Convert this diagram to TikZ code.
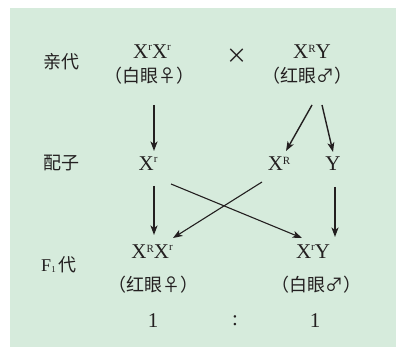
\documentclass[tikz,border=0pt]{standalone}
\usepackage{fontspec}
\setmainfont{Liberation Serif}
\newfontfamily\cjk{Noto Sans CJK SC}
\usetikzlibrary{arrows.meta}
\definecolor{bg}{RGB}{214,235,220}
\definecolor{ink}{RGB}{35,31,32}
\newcommand{\gsl}{\raisebox{8.2pt}{\fontsize{11}{11}\selectfont r}}
\newcommand{\gsu}{\raisebox{6pt}{\fontsize{11}{11}\selectfont R}}
\newcommand{\gsub}[1]{\raisebox{-0.05em}{\fontsize{9}{9}\selectfont #1}}
\begin{document}
\begin{tikzpicture}[x=1pt,y=-1pt,
  gene/.style={font=\fontsize{21}{21}\selectfont, inner sep=0pt, text=ink},
  zh/.style={font=\cjk\fontsize{18}{18}\selectfont, inner sep=0pt, text=ink},
  arr/.style={-{Stealth[length=9.5pt,width=7pt,inset=2.5pt]}, line width=1.4pt, draw=ink},
  crs/.style={arr, line width=1.1pt}]
\useasboundingbox (0,0) rectangle (396,347);
\fill[bg] (10,8) rectangle (396,347);
% row labels
\node[zh] (lp) at (61,62) {亲代};
\node[zh] (lg) at (61,163) {配子};
\node[inner sep=0pt, text=ink] (lf) at (59,265) {\fontsize{18}{18}\selectfont F\gsub{1}\hspace{3pt}\cjk\fontsize{18}{18}\selectfont 代};
% parents
\node[gene] (pf) at (152,52) {X\gsl X\gsl};
\node[zh] (pfl) at (149,76) {（白眼♀）};
\node[zh, font=\cjk\fontsize{21}{21}\selectfont] (cross) at (237,56) {×};
\node[gene] (pm) at (312,52) {X\gsu Y};
\node[zh] (pml) at (307,76) {（红眼♂）};
% gametes
\node[gene] (gr) at (148,164) {X\gsl};
\node[gene] (gR) at (279,164) {X\gsu};
\node[gene] (gY) at (333,164) {Y};
% offspring
\node[gene] (f1) at (152,252) {X\gsu X\gsl};
\node[gene] (f2) at (313,252) {X\gsl Y};
\node[zh] (f1l) at (153,285) {（红眼♀）};
\node[zh] (f2l) at (316,285) {（白眼♂）};
\node[gene] (n1) at (153,321) {1};
\node[gene] (nc) at (235,321) {:};
\node[gene] (n2) at (315,321) {1};
% arrows
\draw[arr] ([shift={(5,29)}]pfl.center) -- ([shift={(6,-13)}]gr.center);
\draw[arr] ([shift={(5,29)}]pml.center) -- ([shift={(7,-13)}]gR.center);
\draw[arr] ([shift={(15,29)}]pml.center) -- ([shift={(0,-12)}]gY.center);
\draw[arr] ([shift={(6,22)}]gr.center) -- ([shift={(2,-17)}]f1.center);
\draw[crs] ([shift={(23,20)}]gr.center) -- ([shift={(-11,-14)}]f2.center);
\draw[crs] ([shift={(-17,18)}]gR.center) -- ([shift={(21,-14)}]f1.center);
\draw[arr] ([shift={(2,23)}]gY.center) -- ([shift={(22,-15)}]f2.center);
\end{tikzpicture}
\end{document}
